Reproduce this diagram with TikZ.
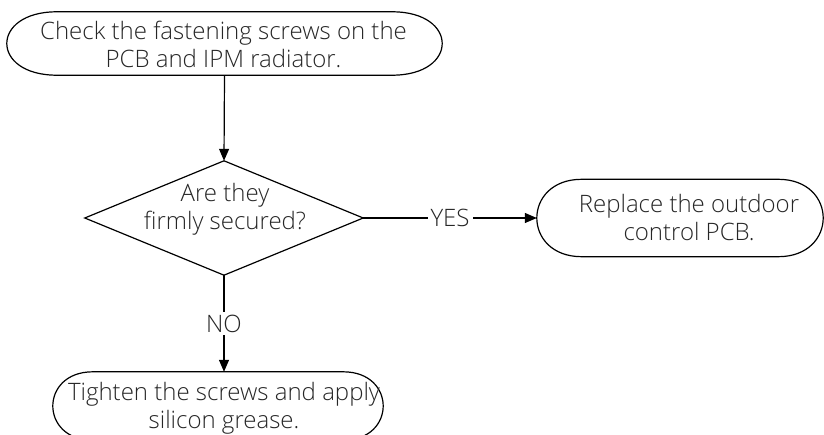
\documentclass[tikz,border=0pt]{standalone}
\usepackage{fontspec}
\setmainfont{Open Sans}[UprightFont=* Light]
\usetikzlibrary{arrows.meta}
\newcommand\terminatorpath[2]{%
  \draw[outline] ([xshift=#2]#1.north west) -- ([xshift=-#2]#1.north east)
    .. controls ([xshift=#2/3]#1.north east) and ([xshift=#2/3]#1.south east) .. ([xshift=-#2]#1.south east)
    -- ([xshift=#2]#1.south west)
    .. controls ([xshift=-#2/3]#1.south west) and ([xshift=-#2/3]#1.north west) .. cycle;}
\begin{document}
\begin{tikzpicture}[x=1pt,y=-1pt,
  outline/.style={line width=1.2pt, black},
  shapebox/.style={inner sep=0pt, draw=none},
  txt/.style={align=center, font=\fontsize{24}{28}\selectfont, text=black!85, inner sep=0pt},
  conn/.style={line width=1.2pt, -{Triangle[length=12pt,width=10pt]}},
  lbl/.style={fill=white, font=\fontsize{24}{28}\selectfont, text=black!85, inner sep=3pt}]
\useasboundingbox (0,0) rectangle (824,435);
% top terminator
\node[shapebox, minimum width=435pt, minimum height=63pt] (top) at (224.5,43.5) {};
\terminatorpath{top}{50pt}
\node[txt] (toptxt) at (223.5,44) {Check the fastening screws on the\\PCB and IPM radiator.};
% decision
\node[shapebox, minimum width=278pt, minimum height=114pt] (dia) at (224,218) {};
\draw[outline, line join=miter] (dia.north) -- (dia.east) -- (dia.south) -- (dia.west) -- cycle;
\node[txt] (diatxt) at (225,209) {Are they\\firmly secured?};
% right terminator
\node[shapebox, minimum width=286pt, minimum height=77pt] (rt) at (680,218) {};
\terminatorpath{rt}{45pt}
\node[txt] (rttxt) at (689,218) {Replace the outdoor\\control PCB.};
% bottom terminator
\node[shapebox, minimum width=330pt, minimum height=68pt] (bt) at (218,406) {};
\terminatorpath{bt}{40pt}
\node[txt] (bttxt) at (224,408) {Tighten the screws and apply\\silicon grease.};
% connectors
\draw[conn] (top.south) -- (dia.north);
\draw[conn] (dia.east) -- node[lbl] {YES} (rt.west);
\draw[conn] (dia.south) -- node[lbl] {NO} (dia.south |- bt.north);
\end{tikzpicture}
\end{document}
